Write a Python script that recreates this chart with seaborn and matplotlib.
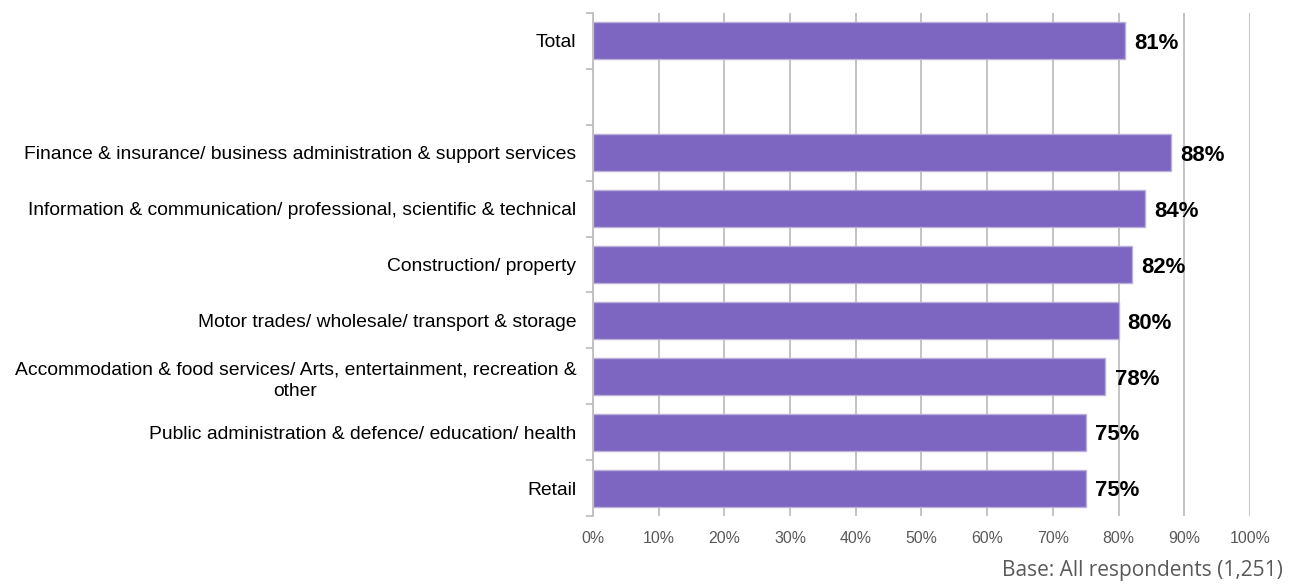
import matplotlib
matplotlib.use("Agg")
import matplotlib.pyplot as plt
import seaborn as sns
import pandas as pd
import numpy as np
from matplotlib.ticker import FixedLocator, PercentFormatter

sns.set_theme(style="white")
plt.rcParams["font.family"] = ["Liberation Sans", "DejaVu Sans"]

categories = [
    "Total",
    "Finance & insurance/ business administration & support services",
    "Information & communication/ professional, scientific & technical",
    "Construction/ property",
    "Motor trades/ wholesale/ transport & storage",
    "Accommodation & food services/ Arts, entertainment, recreation &\nother",
    "Public administration & defence/ education/ health",
    "Retail",
]
values = [81, 88, 84, 82, 80, 78, 75, 75]
spacer = " "
order = [categories[0], spacer] + categories[1:]
footer = "Base: All respondents (1,251)"

df = pd.DataFrame({"sector": categories, "pct": values})

fig = plt.figure(figsize=(12.93, 5.88), dpi=100)
ax = fig.add_axes([0.4586, 0.1224, 0.5081, 0.8555])

sns.barplot(data=df, y="sector", x="pct", order=order, color="#7C66C1",
            width=0.66, edgecolor="#B9B0DA", linewidth=1.0, saturation=1,
            ax=ax, orient="h")

ax.set_xlim(0, 100)
ax.set_ylim(len(order) - 0.5, -0.5)
ax.xaxis.set_major_locator(FixedLocator(np.arange(0, 101, 10)))
ax.xaxis.set_major_formatter(PercentFormatter(decimals=0))
ax.grid(axis="x", color="#BFBFBF", linewidth=1.3)
ax.set_axisbelow(True)
ax.set_xlabel("")
ax.set_ylabel("")

for s in ["top", "right", "bottom"]:
    ax.spines[s].set_visible(False)
ax.spines["left"].set_color("#BFBFBF")
ax.spines["left"].set_linewidth(1.3)

ax.tick_params(axis="x", length=0, labelsize=11.4, labelcolor="#595959", pad=11)
ax.tick_params(axis="y", which="major", left=False, length=0, labelsize=13.9,
               labelcolor="#000000", pad=12)
ax.yaxis.set_minor_locator(FixedLocator(np.arange(-0.5, len(order), 1.0)))
ax.tick_params(axis="y", which="minor", left=True, length=5, color="#BFBFBF",
               width=1.3, direction="out")
for lbl in ax.get_yticklabels():
    lbl.set_multialignment("center")
    lbl.set_linespacing(1.35)

for cat, v in zip(categories, values):
    ax.text(v + 1.4, order.index(cat) + 0.05, f"{v}%", va="center", ha="left",
            fontsize=15.9, fontweight="bold", color="#000000")

fig.text(0.992, 0.03, footer, ha="right", va="center", fontsize=15,
         color="#595959", family=["Open Sans", "DejaVu Sans"])

fig.savefig("out.png", dpi=100)
